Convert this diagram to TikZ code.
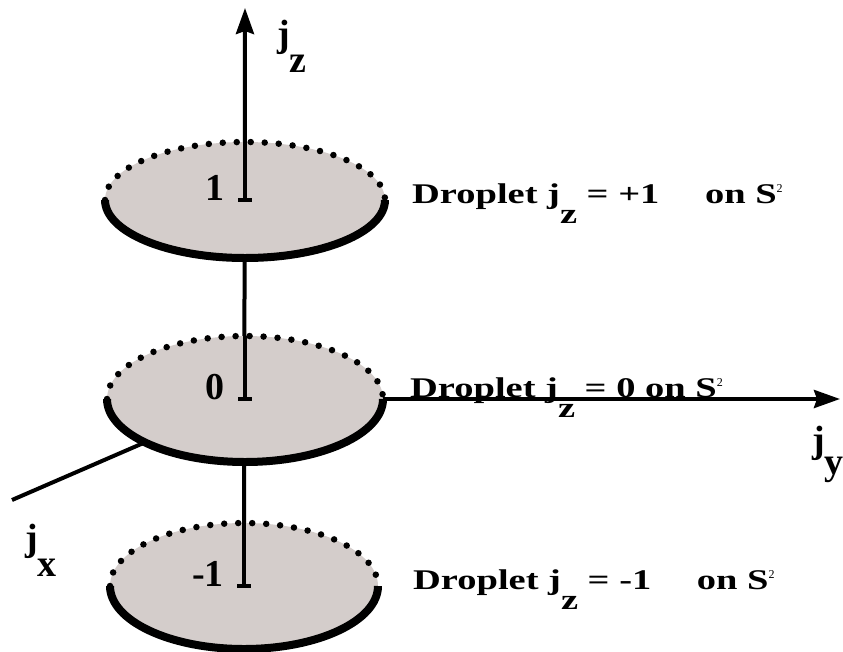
\documentclass[tikz,border=0pt]{standalone}
\usepackage{fontspec}
\setmainfont{Liberation Serif}
\newfontfamily\rowfont{Liberation Serif Bold}[FakeStretch=1.35]
\newfontfamily\boldfont{Liberation Serif Bold}
\usetikzlibrary{arrows.meta}
\definecolor{diskgray}{RGB}{212,205,203}
\newcommand\jsub[2][20pt]{j\raisebox{-#1}{#2}}
\newcommand\sqr{\raisebox{11pt}{\setmainfont{Liberation Serif}\fontsize{12}{12}\selectfont 2}}

\begin{document}
\begin{tikzpicture}[x=1pt,y=-1pt,
  axis/.style={line width=4pt},
  arrow/.style={-{Stealth[length=26pt,width=18pt,inset=3pt]}, line width=4pt},
  backrim/.style={line width=6.5pt, line cap=round, dash pattern=on 0pt off 14pt},
  frontrim/.style={line width=8pt},
  numlab/.style={inner sep=0pt, font=\boldfont\fontsize{38}{38}\selectfont, anchor=base east},
  axlab/.style={inner sep=0pt, font=\boldfont\fontsize{38}{38}\selectfont, anchor=base west},
  droplab/.style={inner sep=0pt, font=\rowfont\fontsize{28.5}{30}\selectfont, anchor=base west}
]
\useasboundingbox (0,0) rectangle (843,651);
\coordinate (top) at (245,200);
\coordinate (mid) at (245,399);
\coordinate (bot) at (244,586);
\coordinate (ztip) at (245,8);
\coordinate (ytip) at (840,399);
\coordinate (xend) at (12,500);

\draw[arrow] (bot) -- (ztip);
\draw[arrow] (mid) -- (ytip);
\draw[axis] (mid) -- (xend);

\foreach \n/\rx/\ry/\lab in {top/140/58/1, mid/138/63/0, bot/134/63/-1} {
  \fill[diskgray] (\n) ellipse [x radius=\rx, y radius=\ry];
  \draw[backrim] ([xshift=-\rx pt]\n) arc [start angle=180, end angle=360, x radius=\rx, y radius=\ry];
  \draw[frontrim] ([xshift=-\rx pt]\n) arc [start angle=180, end angle=0, x radius=\rx, y radius=\ry];
  \draw[axis] (\n) -- ++(0,-\ry);
  \draw[axis] ([xshift=-7pt]\n) -- ([xshift=7pt]\n);
  \node[numlab] (\n-num) at ([xshift=-20pt]\n) {\lab};
}

\node[droplab] (drop-top) at (412,203) {Droplet \jsub{z} = +1\hspace{36pt} on S\sqr};
\node[droplab] (drop-mid) at (410,397) {Droplet \jsub{z} = 0 on S\sqr};
\node[droplab] (drop-bot) at (413,589) {Droplet \jsub{z} = -1\hspace{36pt} on S\sqr};

\node[axlab] (jz) at (277,46) {\jsub[26pt]{z}};
\node[axlab] (jy) at (812,452) {\jsub[22pt]{y}};
\node[axlab] (jx) at (25,550) {\jsub[26pt]{x}};
\end{tikzpicture}
\end{document}
